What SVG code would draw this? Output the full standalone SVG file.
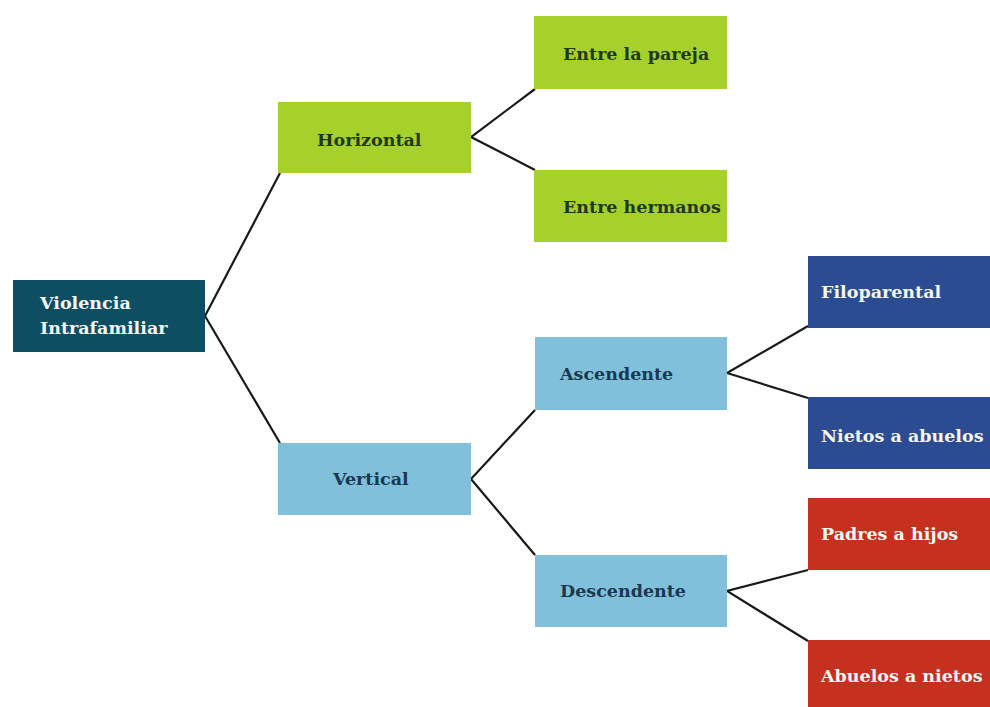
<svg xmlns="http://www.w3.org/2000/svg" width="990" height="707" viewBox="0 0 990 707">
<style>
.t{font-family:"DejaVu Serif","Liberation Serif",serif;font-size:17.5px;font-weight:bold}
.root{fill:#0e4e63}.green{fill:#a6d12b}.lblue{fill:#80c0da}.navy{fill:#2b4b93}.red{fill:#c6311f}
.tw{fill:#f4f6f2}.tg{fill:#1f3a10}.tb{fill:#1a3850}
.c{stroke:#1a1a1a;stroke-width:2.2;fill:none}
</style>
<rect width="990" height="707" fill="#ffffff"/>
<g id="connectors">
<polyline class="c" points="280,173 205,316 280,443"/>
<polyline class="c" points="535,89 471,137 535,170"/>
<polyline class="c" points="535,410 471,479 535,555"/>
<polyline class="c" points="808,326 727,373 808,398"/>
<polyline class="c" points="808,570 727,591 808,641"/>
</g>
<g id="violencia"><rect class="root" x="13" y="280" width="192" height="72"/><text class="t tw" x="40" y="309">Violencia</text><text class="t tw" x="40" y="334">Intrafamiliar</text></g>
<g id="horizontal"><rect class="green" x="278" y="102" width="193" height="71"/><text class="t tg" x="317" y="146">Horizontal</text></g>
<g id="vertical"><rect class="lblue" x="278" y="443" width="193" height="72"/><text class="t tb" x="333" y="485">Vertical</text></g>
<g id="pareja"><rect class="green" x="534" y="16" width="193" height="73"/><text class="t tg" x="563" y="60">Entre la pareja</text></g>
<g id="hermanos"><rect class="green" x="534" y="170" width="193" height="72"/><text class="t tg" x="563" y="213">Entre hermanos</text></g>
<g id="ascendente"><rect class="lblue" x="535" y="337" width="192" height="73"/><text class="t tb" x="560" y="380">Ascendente</text></g>
<g id="descendente"><rect class="lblue" x="535" y="555" width="192" height="72"/><text class="t tb" x="560" y="597">Descendente</text></g>
<g id="filoparental"><rect class="navy" x="808" y="256" width="182" height="72"/><text class="t tw" x="821" y="298">Filoparental</text></g>
<g id="nietos"><rect class="navy" x="808" y="397" width="182" height="72"/><text class="t tw" x="821" y="442">Nietos a abuelos</text></g>
<g id="padres"><rect class="red" x="808" y="498" width="182" height="72"/><text class="t tw" x="821" y="540">Padres a hijos</text></g>
<g id="abuelos"><rect class="red" x="808" y="640" width="182" height="67"/><text class="t tw" x="821" y="682">Abuelos a nietos</text></g>
</svg>
